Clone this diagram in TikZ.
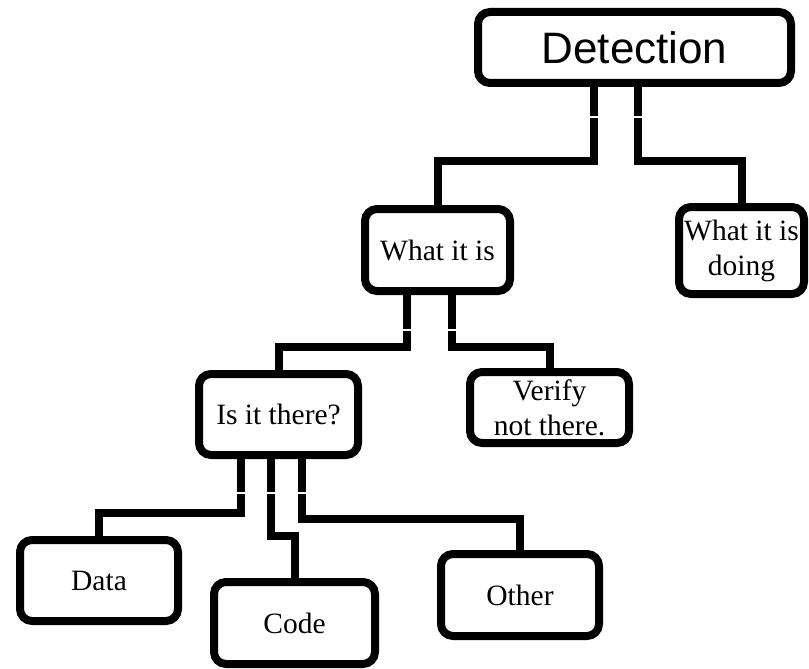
\documentclass[tikz,border=0pt]{standalone}
\usepackage{fontspec}
\setmainfont{Liberation Serif}
\newfontfamily\detfont{Liberation Sans}
\tikzset{
  box/.style={draw=black, line width=8pt, rounded corners=12pt, fill=white,
    inner sep=0pt, align=center, font=\fontsize{29.5}{35}\selectfont},
  conn/.style={draw=black, line width=8pt}
}
\begin{document}
\begin{tikzpicture}[x=1pt,y=-1pt]
\useasboundingbox (0,0) rectangle (809,669);
% boxes
\node[box, minimum width=313pt, minimum height=71pt, font=\detfont\fontsize{44}{50}\selectfont] (det) at (634.5,47.5) {Detection};
\node[box, minimum width=145pt, minimum height=82pt] (wii) at (437.5,250) {What it is};
\node[box, minimum width=125pt, minimum height=87pt] (wid) at (741.5,250.5) {What it is\\doing};
\node[box, minimum width=159pt, minimum height=81pt] (iit) at (278.5,414.5) {Is it there?};
\node[box, minimum width=159pt, minimum height=71pt] (ver) at (549.5,407.5) {Verify\\not there.};
\node[box, minimum width=158pt, minimum height=81pt] (data) at (99,580.5) {Data};
\node[box, minimum width=161pt, minimum height=82pt] (code) at (294.5,623) {Code};
\node[box, minimum width=158pt, minimum height=82pt] (oth) at (520,595) {Other};
% break points in the connectors
\coordinate (g1) at (594,117);
\coordinate (g2) at (638,117);
\coordinate (g3) at (407,330);
\coordinate (g4) at (452,330);
\coordinate (g5) at (241,493);
\coordinate (g6) at (271,493);
\coordinate (g7) at (302,493);
% connectors
\draw[conn] (det.south -| g1) -- ([yshift=1.2pt]g1);
\draw[conn] ([yshift=-1.2pt]g1) |- (wii.north |- 0,161) -- (wii.north);
\draw[conn] (det.south -| g2) -- ([yshift=1.2pt]g2);
\draw[conn] ([yshift=-1.2pt]g2) |- (wid.north |- 0,161) -- (wid.north);
\draw[conn] (wii.south -| g3) -- ([yshift=1.2pt]g3);
\draw[conn] ([yshift=-1.2pt]g3) |- (iit.north |- 0,347) -- (iit.north);
\draw[conn] (wii.south -| g4) -- ([yshift=1.2pt]g4);
\draw[conn] ([yshift=-1.2pt]g4) |- (ver.north |- 0,347) -- (ver.north);
\draw[conn] (iit.south -| g5) -- ([yshift=1.2pt]g5);
\draw[conn] ([yshift=-1.2pt]g5) |- (data.north |- 0,513) -- (data.north);
\draw[conn] (iit.south -| g6) -- ([yshift=1.2pt]g6);
\draw[conn] ([yshift=-1.2pt]g6) |- (code.north |- 0,536) -- (code.north);
\draw[conn] (iit.south -| g7) -- ([yshift=1.2pt]g7);
\draw[conn] ([yshift=-1.2pt]g7) |- (oth.north |- 0,519) -- (oth.north);
\end{tikzpicture}
\end{document}
